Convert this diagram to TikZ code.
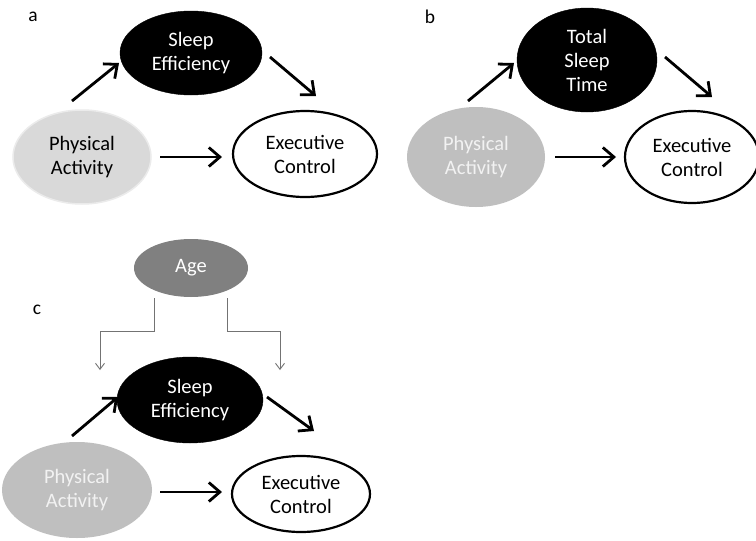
\documentclass[tikz,border=0pt]{standalone}
\usepackage{fontspec}
\setmainfont{Carlito}
\usetikzlibrary{shapes.geometric,arrows.meta}
\begin{document}
\begin{tikzpicture}[x=1pt,y=-1pt,
  every node/.style={font=\fontsize{20.5}{24}\selectfont, align=center, inner sep=0pt},
  sleep/.style={ellipse, fill=black, text=white, draw=black},
  pa/.style={ellipse, fill=gray!50, text=white!95!black},
  paa/.style={ellipse, fill=black!15, draw=black!8, line width=1.5pt, text=black},
  ec/.style={ellipse, fill=white, draw=black, line width=2.2pt, text=black},
  age/.style={ellipse, fill=black!50, text=white},
  lbl/.style={font=\fontsize{19.5}{22}\selectfont, text=black},
  mainarrow/.style={line width=2.8pt, -{Straight Barb[length=11pt,width=19pt]}},
  thinarrow/.style={line width=0.9pt, draw=black!55, -{Straight Barb[length=6pt,width=9pt]}}
]
\useasboundingbox (0,0) rectangle (756,541);
\fill[white] (0,0) rectangle (756,541);

% ---------- panel a ----------
\node[lbl] (la) at (33,17) {a};
\node[sleep, minimum width=142pt, minimum height=84pt] (ase) at (191,53) {Sleep\\Efficiency};
\node[paa, minimum width=138pt, minimum height=94pt] (apa) at (82,157) {Physical\\Activity};
\node[ec, minimum width=144pt, minimum height=86pt] (aec) at (305,154) {Executive\\Control};
\coordinate (a1s) at (72,101); \coordinate (a1e) at (119,63);
\coordinate (a2s) at (270,57); \coordinate (a2e) at (316,96);
\coordinate (a3s) at (160,157); \coordinate (a3e) at (222,157);
\draw[mainarrow] (a1s) -- (a1e);
\draw[mainarrow] (a2s) -- (a2e);
\draw[mainarrow] (a3s) -- (a3e);

% ---------- panel b ----------
\node[lbl] (lb) at (430,17) {b};
\node[sleep, minimum width=140pt, minimum height=104pt] (btst) at (587,60) {Total\\Sleep\\Time};
\node[pa, minimum width=138pt, minimum height=100pt] (bpa) at (476,157) {Physical\\Activity};
\node[ec, minimum width=134pt, minimum height=92pt] (bec) at (692,157) {Executive\\Control};
\coordinate (b1s) at (468,101); \coordinate (b1e) at (514,63);
\coordinate (b2s) at (665,57); \coordinate (b2e) at (712,97);
\coordinate (b3s) at (555,157); \coordinate (b3e) at (616,157);
\draw[mainarrow] (b1s) -- (b1e);
\draw[mainarrow] (b2s) -- (b2e);
\draw[mainarrow] (b3s) -- (b3e);

% ---------- panel c ----------
\node[lbl] (lc) at (37,310) {c};
\node[age, minimum width=114pt, minimum height=58pt] (cage) at (191,268) {Age};
\node[sleep, minimum width=146pt, minimum height=86pt] (cse) at (190,400) {Sleep\\Efficiency};
\node[pa, minimum width=150pt, minimum height=96pt] (cpa) at (77,490) {Physical\\Activity};
\node[ec, minimum width=138pt, minimum height=76pt] (cec) at (301,494) {Executive\\Control};
\coordinate (c1s) at (72,436); \coordinate (c1e) at (118,397);
\coordinate (c2s) at (267,397); \coordinate (c2e) at (314,431);
\coordinate (c3s) at (160,492); \coordinate (c3e) at (222,492);
\draw[mainarrow] (c1s) -- (c1e);
\draw[mainarrow] (c2s) -- (c2e);
\draw[mainarrow] (c3s) -- (c3e);
\coordinate (g1s) at (154,298); \coordinate (g1e) at (100,370);
\coordinate (g2s) at (227,298); \coordinate (g2e) at (280,370);
\draw[thinarrow] (g1s) -- (154,331) -| (g1e);
\draw[thinarrow] (g2s) -- (227,331) -| (g2e);
\end{tikzpicture}
\end{document}
